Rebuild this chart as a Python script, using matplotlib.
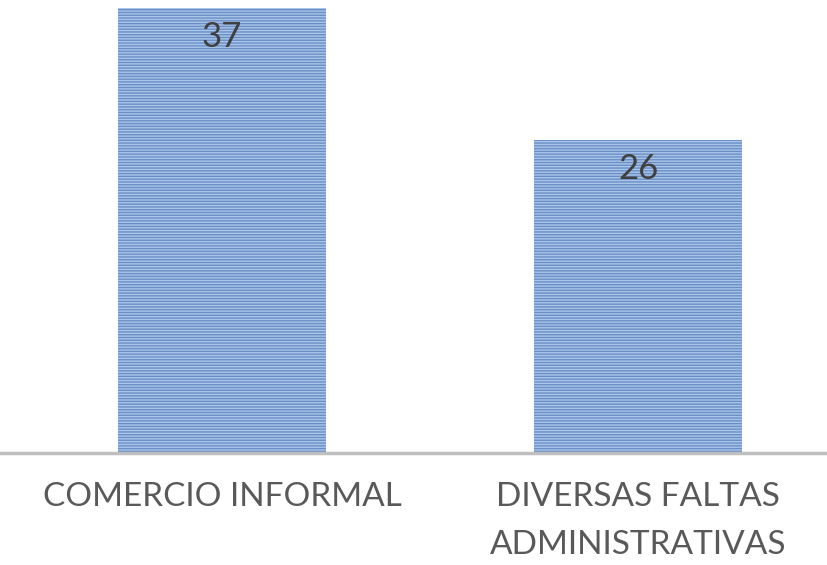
import matplotlib.pyplot as plt

categorias = ['COMERCIO INFORMAL', 'DIVERSAS FALTAS\nADMINISTRATIVAS']
valores = [37, 26]

plt.rcParams['font.family'] = ['Lato', 'DejaVu Sans']
plt.rcParams['hatch.color'] = '#6a8fc6'
plt.rcParams['hatch.linewidth'] = 1.0

fig = plt.figure(figsize=(8.27, 5.65), dpi=100)
ax = fig.add_axes([0, 0.198, 1, 0.802])

x = range(len(valores))
# barras azul claro con rayado horizontal fino
barras = ax.bar(x, valores, width=0.5, color='#aac5e8', edgecolor='#6a8fc6',
                linewidth=0, hatch='-' * 6, zorder=2)

for xi, v in zip(x, valores):
    ax.text(xi, v - 1.05, str(v), ha='center', va='top', fontsize=25,
            color='#404040', zorder=3)

ax.set_xlim(-0.534, 1.454)
ax.set_ylim(0, 37.66)

for s in ['top', 'right', 'left']:
    ax.spines[s].set_visible(False)
ax.spines['bottom'].set_color('#bfbfbf')
ax.spines['bottom'].set_linewidth(2.5)
ax.spines['bottom'].set_zorder(4)

ax.set_yticks([])
ax.set_xticks(list(x))
ax.set_xticklabels(categorias, fontsize=24, color='#595959', linespacing=1.75)
ax.tick_params(axis='x', length=0, pad=21)

fig.savefig('out.png', dpi=100)
